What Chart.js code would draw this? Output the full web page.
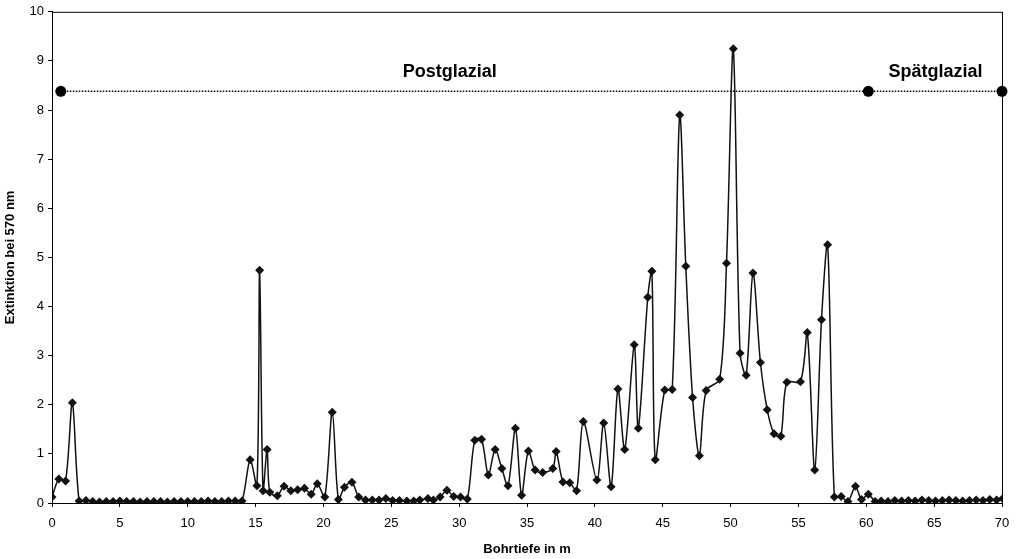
<!DOCTYPE html>
<html>
<head>
<meta charset="utf-8">
<script src="https://cdn.jsdelivr.net/npm/chart.js@4.4.1/dist/chart.umd.min.js"></script>
<style>
  body { margin: 0; background: #fff; }
  #wrap { width: 1019px; height: 559px; }
</style>
</head>
<body>
<div id="wrap"><canvas id="mygraph" width="1019" height="559"></canvas></div>
<script>
// Bohrtiefe (m) und Extinktion bei 570 nm
const depth = [
  0, 0.5, 1.0, 1.5, 2.0, 2.5, 3.0, 3.5, 4.0, 4.5, 5.0, 5.5, 6.0, 6.5, 7.0, 7.5, 8.0, 8.5, 9.0, 9.5,
  10.0, 10.5, 11.0, 11.5, 12.0, 12.5, 13.0, 13.5, 14.0, 14.6, 15.1, 15.3, 15.55, 15.85, 16.05, 16.6,
  17.1, 17.6, 18.1, 18.6, 19.1, 19.55, 20.1, 20.65, 21.1, 21.55, 22.1, 22.6, 23.1, 23.6, 24.1, 24.6,
  25.1, 25.6, 26.15, 26.65, 27.1, 27.7, 28.1, 28.6, 29.1, 29.6, 30.1, 30.6, 31.15, 31.65, 32.15, 32.65,
  33.15, 33.6, 34.15, 34.6, 35.1, 35.6, 36.15, 36.9, 37.15, 37.65, 38.15, 38.65, 39.15, 40.15, 40.65,
  41.2, 41.7, 42.2, 42.9, 43.2, 43.9, 44.2, 44.45, 45.15, 45.7, 46.25, 46.7, 47.2, 47.7, 48.2, 49.2,
  49.7, 50.2, 50.7, 51.15, 51.65, 52.2, 52.7, 53.2, 53.7, 54.15, 55.15, 55.65, 56.2, 56.7, 57.15,
  57.65, 58.15, 58.65, 59.2, 59.65, 60.15, 60.65, 61.1, 61.6, 62.1, 62.6, 63.1, 63.6, 64.1, 64.6,
  65.1, 65.6, 66.1, 66.6, 67.1, 67.6, 68.1, 68.6, 69.1, 69.6, 70.05
];
const extinction = [
  0.12, 0.49, 0.45, 2.04, 0.04, 0.05, 0.03, 0.02, 0.03, 0.03, 0.04, 0.03, 0.03, 0.02, 0.03, 0.03, 0.03, 0.02, 0.03, 0.03,
  0.03, 0.03, 0.03, 0.04, 0.03, 0.03, 0.04, 0.04, 0.04, 0.88, 0.35, 4.74, 0.25, 1.09, 0.22, 0.15,
  0.34, 0.25, 0.27, 0.3, 0.18, 0.39, 0.12, 1.85, 0.07, 0.32, 0.42, 0.12, 0.06, 0.06, 0.06, 0.09,
  0.05, 0.05, 0.04, 0.04, 0.06, 0.09, 0.06, 0.12, 0.26, 0.13, 0.12, 0.08, 1.28, 1.3, 0.57, 1.09,
  0.7, 0.35, 1.52, 0.16, 1.06, 0.67, 0.62, 0.7, 1.05, 0.43, 0.41, 0.25, 1.66, 0.47, 1.63,
  0.33, 2.32, 1.09, 3.22, 1.52, 4.19, 4.72, 0.88, 2.3, 2.31, 7.9, 4.82, 2.15, 0.96, 2.29, 2.52,
  4.88, 9.25, 3.05, 2.6, 4.68, 2.86, 1.9, 1.41, 1.36, 2.46, 2.47, 3.47, 0.67, 3.73, 5.26,
  0.12, 0.13, 0.03, 0.34, 0.07, 0.18, 0.03, 0.04, 0.03, 0.05, 0.04, 0.05, 0.04, 0.06, 0.05,
  0.04, 0.05, 0.06, 0.05, 0.04, 0.05, 0.06, 0.05, 0.07, 0.06, 0.09
];

// Grenzlinie Postglazial / Spätglazial
const phaseX = [0.65, 60.15, 70.0];
const phaseY = [8.38, 8.38, 8.38];
const phaseLabels = ["Postglazial", "Spätglazial"];
const phaseLabelX = [29.3, 65.1];
const phaseLabelY = 8.77;

const xTicks = [0, 5, 10, 15, 20, 25, 30, 35, 40, 45, 50, 55, 60, 65, 70];
const yTicks = [0, 1, 2, 3, 4, 5, 6, 7, 8, 9, 10];

const fontFam = "'Liberation Sans', Arial, sans-serif";

const frame = {
  id: 'frame',
  afterDatasetsDraw(chart) {
    const a = chart.chartArea;
    const c = chart.ctx;
    c.save();
    c.strokeStyle = '#000';
    c.lineWidth = 1;
    c.strokeRect(a.left + 0.5, a.top + 0.5, a.right - a.left, a.bottom - a.top);
    c.fillStyle = '#000';
    c.font = "bold 18px " + fontFam;
    c.textAlign = 'center';
    c.textBaseline = 'middle';
    const xs = chart.scales.x, ys = chart.scales.y;
    phaseLabels.forEach((t, i) => {
      c.fillText(t, xs.getPixelForValue(phaseLabelX[i]), ys.getPixelForValue(phaseLabelY));
    });
    c.restore();
  }
};

const ctx = document.getElementById("mygraph");
const mygraph = new Chart(ctx, {
  type: 'line',
  data: {
    datasets: [
      {
        data: depth.map((d, i) => ({x: d, y: extinction[i]})),
        borderColor: '#111',
        borderWidth: 1.5,
        backgroundColor: '#111',
        pointStyle: 'rectRot',
        pointRadius: 4.5,
        pointBorderWidth: 0,
        tension: 0.3,
        fill: false
      },
      {
        data: phaseX.map((d, i) => ({x: d, y: phaseY[i]})),
        borderColor: '#000',
        borderWidth: 1.5,
        borderDash: [1.5, 1.5],
        backgroundColor: '#000',
        pointRadius: 5.5,
        pointBorderWidth: 0,
        tension: 0,
        clip: false,
        fill: false
      }
    ]
  },
  options: {
    responsive: false,
    animation: false,
    devicePixelRatio: 1,
    layout: { padding: { top: 9, right: 17, left: 0, bottom: 0 } },
    plugins: { legend: { display: false }, tooltip: { enabled: false } },
    scales: {
      x: {
        type: 'linear',
        min: 0, max: 70,
        afterBuildTicks: s => { s.ticks = xTicks.map(v => ({value: v})); },
        afterFit: s => { s.height = 56; },
        grid: { drawOnChartArea: false, drawTicks: true, tickLength: 4, color: '#000' },
        border: { display: true, color: '#000', width: 1 },
        ticks: { color: '#000', padding: 9, maxRotation: 0, font: { family: fontFam, size: 13 } },
        title: { display: true, text: 'Bohrtiefe in m', color: '#000',
                 padding: { top: 0, bottom: 2 }, font: { family: fontFam, size: 13, weight: 'bold' } }
      },
      y: {
        min: 0, max: 10,
        afterBuildTicks: s => { s.ticks = yTicks.map(v => ({value: v})); },
        afterFit: s => { s.width = 52; },
        grid: { drawOnChartArea: false, drawTicks: true, tickLength: 4, color: '#000' },
        border: { display: true, color: '#000', width: 1 },
        ticks: { color: '#000', padding: 4, font: { family: fontFam, size: 13 } },
        title: { display: true, text: 'Extinktion bei 570 nm', color: '#000',
                 padding: { top: 3, bottom: 0 }, font: { family: fontFam, size: 13, weight: 'bold' } }
      }
    }
  },
  plugins: [frame]
});
</script>
</body>
</html>
